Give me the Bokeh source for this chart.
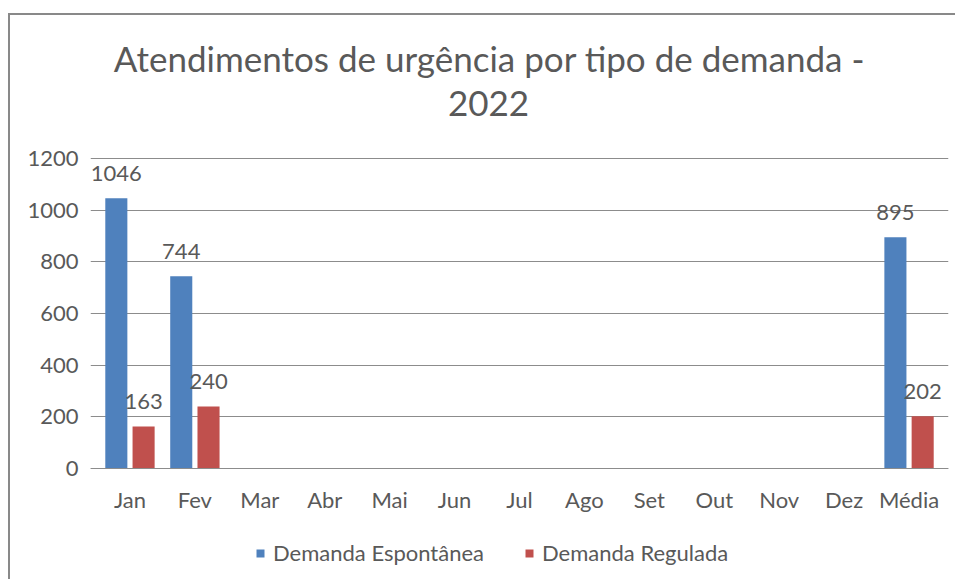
from bokeh.plotting import figure
from bokeh.models import (ColumnDataSource, FactorRange, Legend, LegendItem, Label, FixedTicker)
from bokeh.transform import dodge
from bokeh.core.properties import value
from bokeh.embed import file_html
from bokeh.resources import INLINE

# ---- data ----
categories = ["Jan", "Fev", "Mar", "Abr", "Mai", "Jun", "Jul", "Ago", "Set", "Out", "Nov", "Dez", "Média"]
data_cats = ["Jan", "Fev", "Média"]
espontanea = [1046, 744, 895]
regulada = [163, 240, 202]
y_ticks = [0, 200, 400, 600, 800, 1000, 1200]
y_max_tick = 1200
title_line1 = "Atendimentos de urgência por tipo de demanda -"
title_line2 = "2022"
series_names = ["Demanda Espontânea", "Demanda Regulada"]

BLUE = "#4F81BD"
RED = "#C0504D"
TXT = "#595959"
GRID = "#8C8C8C"
BORDER = "#898989"
FONT = "Lato"

# ---- layout constants (pixels, page coordinates) ----
ORIGIN_X, ORIGIN_Y = 10, 15          # figure top-left after css margin + border
W, H = 947, 566
PLOT_LEFT, PLOT_RIGHT = 97, 941      # page x of the category band
SIDE_PAD = 7                          # extra frame room so edge labels are not clipped
MB_LEFT = PLOT_LEFT - SIDE_PAD - ORIGIN_X
MB_RIGHT = ORIGIN_X + W - (PLOT_RIGHT + SIDE_PAD)
MB_TOP, MB_BOTTOM = 5, 0
ZERO_PX, TOP_TICK_PX = 468, 158      # page y of value 0 and of value 1200
ppu = (ZERO_PX - TOP_TICK_PX) / y_max_tick
frame_top = ORIGIN_Y + MB_TOP
frame_bottom = ORIGIN_Y + H - MB_BOTTOM
y_end = (ZERO_PX - frame_top) / ppu
y_start = -(frame_bottom - ZERO_PX) / ppu
cat_px = (PLOT_RIGHT - PLOT_LEFT) / len(categories)
fl = ORIGIN_X + MB_LEFT              # page x of frame left

src = ColumnDataSource(dict(cat=data_cats, esp=espontanea, reg=regulada,
                            esp_l=[str(v) for v in espontanea],
                            reg_l=[str(v) for v in regulada]))

xr = FactorRange(factors=categories, range_padding=SIDE_PAD / cat_px,
                 range_padding_units="absolute")
p = figure(width=W, height=H, x_range=xr,
           y_range=(y_start, y_end), output_backend="svg", toolbar_location=None,
           min_border_left=MB_LEFT, min_border_right=MB_RIGHT,
           min_border_top=MB_TOP, min_border_bottom=MB_BOTTOM)

p.background_fill_color = "white"
p.border_fill_color = "white"
p.outline_line_color = None

b1 = p.vbar(x=dodge("cat", -0.21, range=p.x_range), top="esp", bottom=0, width=0.34,
            source=src, fill_color=BLUE, line_color=None)
b2 = p.vbar(x=dodge("cat", 0.21, range=p.x_range), top="reg", bottom=0, width=0.34,
            source=src, fill_color=RED, line_color=None)

for col, lab, off in (("esp", "esp_l", -0.21), ("reg", "reg_l", 0.21)):
    p.text(x=dodge("cat", off, range=p.x_range), y=col, text=lab, source=src,
           text_align="center", text_baseline="alphabetic", y_offset=-25,
           text_font=value(FONT), text_font_size="22px", text_color=TXT)

# axes
p.yaxis.ticker = FixedTicker(ticks=y_ticks)
p.yaxis.axis_line_color = None
p.yaxis.major_tick_line_color = None
p.yaxis.minor_tick_line_color = None
p.yaxis.major_label_text_font = FONT
p.yaxis.major_label_text_font_size = "22px"
p.yaxis.major_label_text_color = TXT
p.yaxis.major_label_standoff = 13 - SIDE_PAD

p.xaxis.fixed_location = 0
p.xaxis.axis_line_color = GRID
p.xaxis.major_tick_line_color = None
p.xaxis.minor_tick_line_color = None
p.xaxis.major_label_text_font = FONT
p.xaxis.major_label_text_font_size = "22px"
p.xaxis.major_label_text_color = TXT
p.xaxis.major_label_standoff = 11

p.xgrid.grid_line_color = None
p.ygrid.grid_line_color = GRID
p.ygrid.grid_line_width = 1

# two-line title (screen units relative to frame bottom-left)
p.add_layout(Label(x=489 - fl, y=frame_bottom - 57, x_units="screen", y_units="screen",
                   text=title_line1, text_align="center", text_baseline="alphabetic",
                   text_font=FONT, text_font_size="35px", text_color=TXT))
p.add_layout(Label(x=488 - fl, y=frame_bottom - 103, x_units="screen", y_units="screen",
                   text=title_line2, text_align="center", text_baseline="alphabetic",
                   text_font=FONT, text_font_size="35px", text_color=TXT))

legend = Legend(items=[LegendItem(label=series_names[0], renderers=[b1]),
                       LegendItem(label=series_names[1], renderers=[b2])],
                location=(255 - fl, frame_bottom - 566), orientation="horizontal",
                label_text_font=FONT, label_text_font_size="22px", label_text_color=TXT,
                glyph_width=10, glyph_height=10, label_standoff=8, spacing=40,
                padding=0, margin=0, border_line_color=None, background_fill_alpha=0)
p.add_layout(legend, "center")

p.styles = {"margin-left": "8px", "margin-top": "13px",
            "border-left": f"2px solid {BORDER}",
            "border-top": f"2px solid {BORDER}"}

open("out.html", "w").write(file_html(p, INLINE))
